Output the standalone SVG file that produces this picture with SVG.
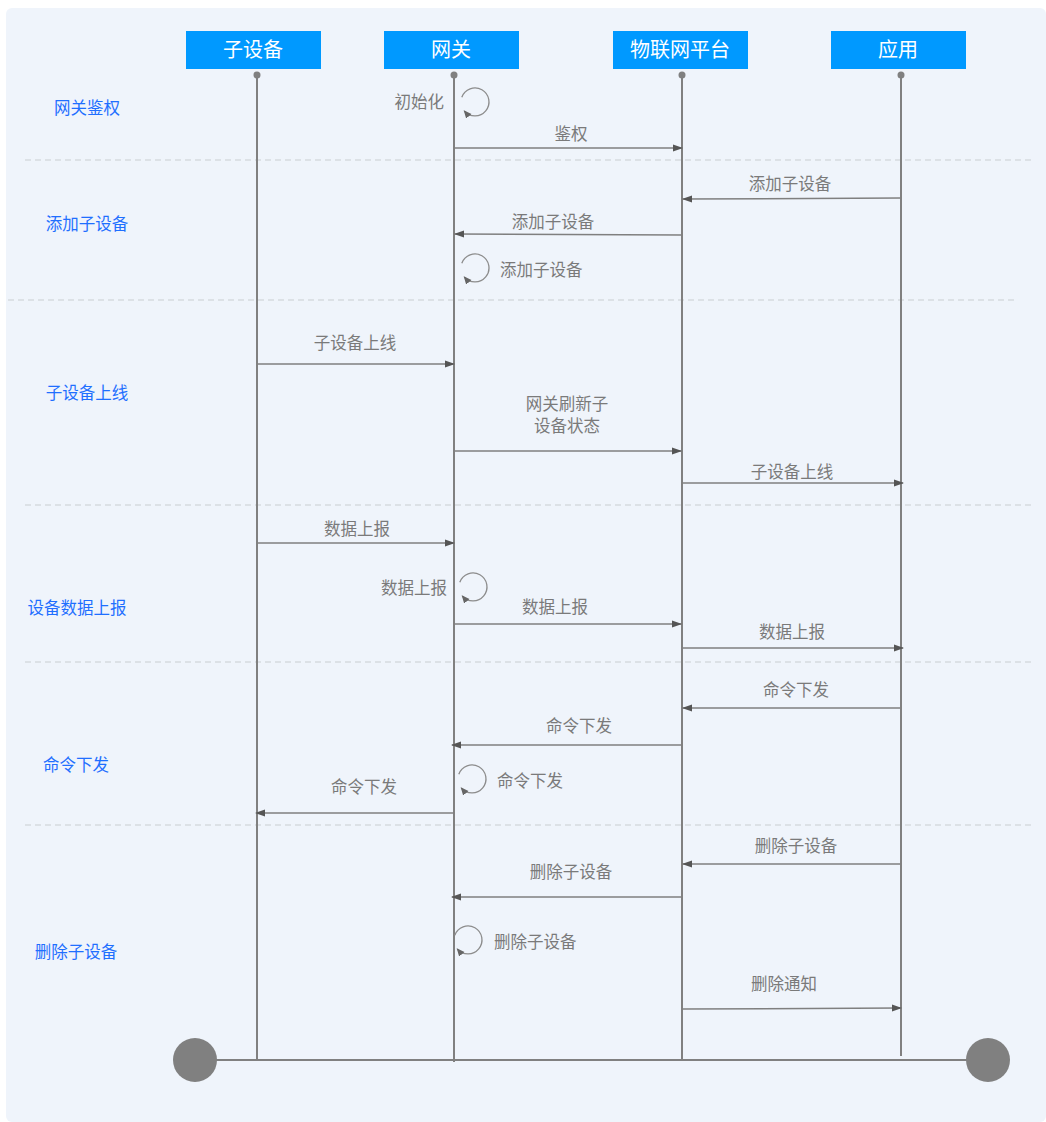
<svg xmlns="http://www.w3.org/2000/svg" width="1046" height="1122" viewBox="0 0 1046 1122">
<style>
.hdr{fill:#0099ff}
.ht{fill:#ffffff;font-family:"Liberation Sans","Noto Sans CJK SC",sans-serif;font-size:20px;text-anchor:middle;dominant-baseline:central}
.life{stroke:#808080;stroke-width:2;fill:none}
.sep{stroke:#c9cdd2;stroke-width:1.2;stroke-dasharray:6 4;fill:none}
.sec{fill:#1f6fff;font-family:"Liberation Sans","Noto Sans CJK SC",sans-serif;font-size:16.5px;text-anchor:middle;dominant-baseline:central}
.msg{stroke:#7f7f7f;stroke-width:1.5;fill:none;marker-end:url(#ah)}
.loop{stroke:#8c8c8c;stroke-width:1.3;fill:none;marker-end:url(#lh)}
.ml{fill:#7a7a7a;font-family:"Liberation Sans","Noto Sans CJK SC",sans-serif;font-size:16.5px;text-anchor:middle;dominant-baseline:central}
.mlL{text-anchor:start}
.mlR{text-anchor:end}
</style>
<defs>
<marker id="ah" markerWidth="10" markerHeight="8" refX="9" refY="4" orient="auto" markerUnits="userSpaceOnUse">
<path d="M0,0.5 L10,4 L0,7.5 Z" fill="#555555"/>
</marker>
<marker id="lh" markerWidth="8" markerHeight="8" refX="7" refY="4" orient="auto" markerUnits="userSpaceOnUse">
<path d="M0,0.5 L8,4 L0,7.5 Z" fill="#666666"/>
</marker>
</defs>
<rect x="0" y="0" width="1046" height="1122" fill="#ffffff"/>
<rect x="6" y="8" width="1040" height="1114" rx="6" fill="#eff4fb"/>

<g id="separators">
<line class="sep" x1="25" y1="160" x2="1035" y2="160"/>
<line class="sep" x1="8" y1="300" x2="1015" y2="300"/>
<line class="sep" x1="25" y1="505" x2="1035" y2="505"/>
<line class="sep" x1="25" y1="662" x2="1035" y2="662"/>
<line class="sep" x1="25" y1="825" x2="1035" y2="825"/>
</g>

<g id="sections">
<text class="sec" x="87" y="108">网关鉴权</text>
<text class="sec" x="87" y="224">添加子设备</text>
<text class="sec" x="87" y="393">子设备上线</text>
<text class="sec" x="77" y="608">设备数据上报</text>
<text class="sec" x="76" y="765">命令下发</text>
<text class="sec" x="76" y="952">删除子设备</text>
</g>

<g id="baseline">
<line class="life" x1="195" y1="1060" x2="988" y2="1060"/>
<circle cx="195" cy="1060" r="22" fill="#808080"/>
<circle cx="988" cy="1060" r="22" fill="#808080"/>
</g>

<g id="node-subdevice">
<rect class="hdr" x="186" y="31" width="135" height="38"/>
<text class="ht" x="253" y="50">子设备</text>
<line class="life" x1="257" y1="75" x2="257" y2="1060"/>
<circle cx="257" cy="75" r="3.5" fill="#808080"/>
</g>
<g id="node-gateway">
<rect class="hdr" x="384" y="31" width="135" height="38"/>
<text class="ht" x="451" y="50">网关</text>
<line class="life" x1="454" y1="75" x2="454" y2="1062"/>
<circle cx="454" cy="75" r="3.5" fill="#808080"/>
</g>
<g id="node-platform">
<rect class="hdr" x="613" y="31" width="135" height="38"/>
<text class="ht" x="680" y="50">物联网平台</text>
<line class="life" x1="682" y1="75" x2="682" y2="1060"/>
<circle cx="682" cy="75" r="3.5" fill="#808080"/>
</g>
<g id="node-app">
<rect class="hdr" x="831" y="31" width="135" height="38"/>
<text class="ht" x="898" y="50">应用</text>
<line class="life" x1="901" y1="75" x2="901" y2="1056"/>
<circle cx="901" cy="75" r="3.5" fill="#808080"/>
</g>

<g id="connectors">
<path class="loop" d="M 461.8 97.2 A 14 14 0 1 1 464.3 111"/>
<line class="msg" x1="454" y1="148" x2="682" y2="148"/>
<line class="msg" x1="901" y1="198" x2="683" y2="199"/>
<line class="msg" x1="682" y1="235" x2="455" y2="234"/>
<path class="loop" d="M 461.8 263.2 A 14 14 0 1 1 464.3 277"/>
<line class="msg" x1="257" y1="364" x2="454" y2="364"/>
<line class="msg" x1="454" y1="451" x2="681" y2="451"/>
<line class="msg" x1="682" y1="483" x2="903" y2="483"/>
<line class="msg" x1="257" y1="543" x2="454" y2="543"/>
<path class="loop" d="M 459.8 582.2 A 14 14 0 1 1 462.3 596"/>
<line class="msg" x1="454" y1="624" x2="681" y2="624"/>
<line class="msg" x1="682" y1="648" x2="903" y2="648"/>
<line class="msg" x1="900" y1="708" x2="683" y2="708"/>
<line class="msg" x1="682" y1="745" x2="452" y2="745"/>
<path class="loop" d="M 458.8 774.2 A 14 14 0 1 1 461.3 788"/>
<line class="msg" x1="454" y1="813" x2="256" y2="813"/>
<line class="msg" x1="901" y1="864" x2="683" y2="864"/>
<line class="msg" x1="682" y1="897" x2="452" y2="897"/>
<path class="loop" d="M 454.8 935.2 A 14 14 0 1 1 457.3 949"/>
<line class="msg" x1="682" y1="1009" x2="901" y2="1008"/>
</g>

<g id="labels">
<text class="ml mlR" x="444" y="102">初始化</text>
<text class="ml" x="571" y="134">鉴权</text>
<text class="ml" x="790" y="184">添加子设备</text>
<text class="ml" x="553" y="222">添加子设备</text>
<text class="ml mlL" x="500" y="270">添加子设备</text>
<text class="ml" x="355" y="343">子设备上线</text>
<text class="ml" x="567" y="404">网关刷新子</text>
<text class="ml" x="567" y="426">设备状态</text>
<text class="ml" x="792" y="472">子设备上线</text>
<text class="ml" x="357" y="529">数据上报</text>
<text class="ml mlR" x="447" y="588">数据上报</text>
<text class="ml" x="555" y="607">数据上报</text>
<text class="ml" x="792" y="632">数据上报</text>
<text class="ml" x="796" y="690">命令下发</text>
<text class="ml" x="579" y="726">命令下发</text>
<text class="ml mlL" x="497" y="781">命令下发</text>
<text class="ml" x="364" y="787">命令下发</text>
<text class="ml" x="796" y="846">删除子设备</text>
<text class="ml" x="571" y="872">删除子设备</text>
<text class="ml mlL" x="494" y="942">删除子设备</text>
<text class="ml" x="784" y="984">删除通知</text>
</g>
</svg>
